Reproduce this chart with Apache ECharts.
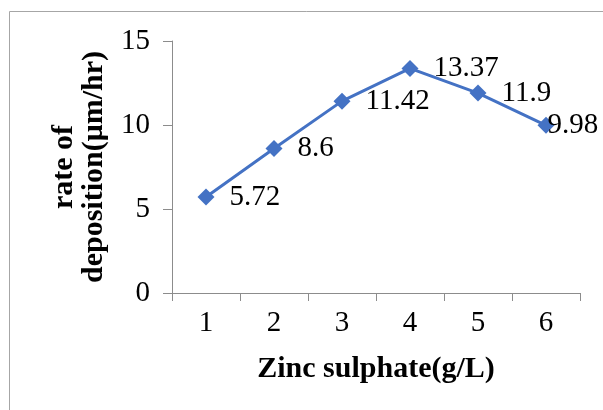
<!DOCTYPE html>
<html>
<head>
<meta charset="utf-8">
<script src="https://cdn.jsdelivr.net/npm/echarts@6/dist/echarts.min.js"></script>
<style>
html,body{margin:0;padding:0;background:#fff;}
#chart{width:603px;height:410px;}
</style>
</head>
<body>
<div id="chart"></div>
<script>
const categories = ['1', '2', '3', '4', '5', '6'];
const rateValues = [5.72, 8.6, 11.42, 13.37, 11.9, 9.98];
const yTicks = [0, 5, 10, 15];
const xTitle = 'Zinc sulphate(g/L)';
const yTitle = 'rate of\ndeposition(μm/hr)';

const FONT = '"Liberation Serif", "Times New Roman", serif';
const AXIS_COLOR = '#8c8c8c';
const LINE_COLOR = '#4472C4';

const chart = echarts.init(document.getElementById('chart'), null, {renderer: 'canvas'});

const seriesData = rateValues.map((v, i) => {
  const d = {value: v};
  if (i === rateValues.length - 1) {
    d.label = {offset: [-22, 0]};
  }
  return d;
});

chart.setOption({
  animation: false,
  backgroundColor: '#ffffff',
  grid: {left: 172, right: 23, top: 41, bottom: 117, containLabel: false},
  xAxis: {
    type: 'category',
    data: categories,
    boundaryGap: true,
    axisLine: {show: true, lineStyle: {color: AXIS_COLOR, width: 1}},
    axisTick: {show: true, length: 8, alignWithLabel: false, lineStyle: {color: AXIS_COLOR}},
    axisLabel: {color: '#000', fontFamily: FONT, fontSize: 29, margin: 16},
    splitLine: {show: false}
  },
  yAxis: {
    type: 'value',
    min: yTicks[0],
    max: yTicks[yTicks.length - 1],
    interval: yTicks[1] - yTicks[0],
    axisLine: {show: true, lineStyle: {color: AXIS_COLOR, width: 1}},
    axisTick: {show: true, length: 9, lineStyle: {color: AXIS_COLOR}},
    axisLabel: {color: '#000', fontFamily: FONT, fontSize: 29, margin: 22},
    splitLine: {show: false}
  },
  graphic: [
    {
      type: 'rect',
      shape: {x: 9.5, y: 11.5, width: 700, height: 600},
      style: {fill: 'none', stroke: '#a6a6a6', lineWidth: 1},
      silent: true,
      z: -1
    },
    {
      type: 'text',
      x: 376,
      y: 369,
      style: {
        text: xTitle,
        fontFamily: FONT,
        fontSize: 30,
        fontWeight: 'bold',
        fill: '#000',
        textAlign: 'center',
        textVerticalAlign: 'middle'
      }
    },
    {
      type: 'text',
      x: 79,
      y: 167,
      rotation: Math.PI / 2,
      style: {
        text: yTitle,
        fontFamily: FONT,
        fontSize: 30,
        fontWeight: 'bold',
        lineHeight: 30,
        fill: '#000',
        textAlign: 'center',
        textVerticalAlign: 'middle'
      }
    }
  ],
  series: [{
    type: 'line',
    data: seriesData,
    symbol: 'diamond',
    symbolSize: 17,
    itemStyle: {color: LINE_COLOR},
    lineStyle: {color: LINE_COLOR, width: 3},
    label: {
      show: true,
      position: 'right',
      distance: 15,
      color: '#000',
      fontFamily: FONT,
      fontSize: 29
    }
  }]
});
</script>
</body>
</html>
